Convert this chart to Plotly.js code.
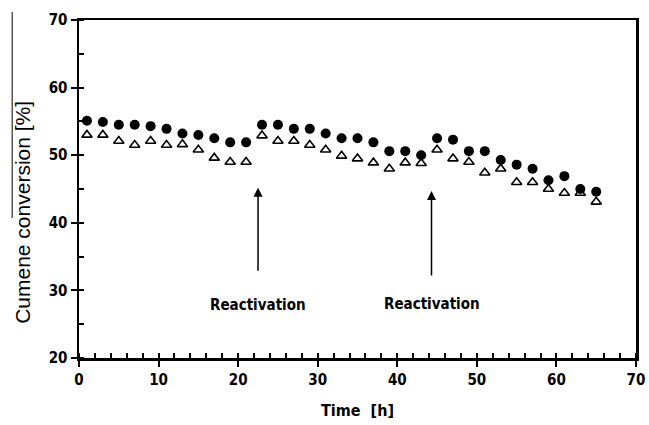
<!DOCTYPE html>
<html>
<head>
<meta charset="utf-8">
<script src="https://cdn.plot.ly/plotly-3.0.1.min.js"></script>
<style>html,body{margin:0;padding:0;background:#fff}#chart{width:649px;height:425px}</style>
</head>
<body>
<div id="chart"></div>
<script>
var timeH = [1,3,5,7,9,11,13,15,17,19,21,23,25,27,29,31,33,35,37,39,41,43,45,47,49,51,53,55,57,59,61,63,65];
var seriesFilled = [55.1,54.9,54.5,54.5,54.3,53.9,53.2,53.0,52.5,51.9,51.9,54.5,54.5,53.9,53.9,53.2,52.5,52.5,51.9,50.6,50.6,50.0,52.5,52.3,50.6,50.6,49.3,48.6,48.0,46.3,46.9,45.0,44.6];
var seriesOpen = [53.0,53.0,52.1,51.5,52.1,51.5,51.6,50.8,49.6,49.0,49.0,52.9,52.1,52.1,51.5,50.8,49.9,49.5,48.9,48.0,48.9,48.8,50.8,49.5,49.0,47.4,48.0,46.0,46.0,45.0,44.4,44.4,43.1];
var reactTimes = [22.5, 44.3];
var arrowTip = [45.2, 44.7];
var arrowTail = [32.7, 32.0];
var labelY = [27.8, 28.0];
var labelText = ['Reactivation', 'Reactivation'];
var xTitle = 'Time  [h]';
var yTitle = 'Cumene conversion [%]';

var fam = '"DejaVu Sans Condensed", "Liberation Sans", Arial, sans-serif';
var tickFont = {family: fam, size: 15, color: '#000', weight: 'bold', stretch: 'condensed'};

var traces = [
  {x: timeH, y: seriesFilled, type: 'scatter', mode: 'markers',
   marker: {symbol: 'circle', size: 10, color: '#000'}, showlegend: false, hoverinfo: 'skip'},
  {x: timeH, y: seriesOpen, type: 'scatter', mode: 'markers',
   marker: {symbol: 'triangle-up-open', size: 9, color: '#000', line: {width: 1.6, color: '#000'}}, showlegend: false, hoverinfo: 'skip'}
];

var annotations = [];
for (var i = 0; i < reactTimes.length; i++) {
  annotations.push({x: reactTimes[i], y: arrowTip[i], ax: reactTimes[i], ay: arrowTail[i],
    xref: 'x', yref: 'y', axref: 'x', ayref: 'y', text: '', showarrow: true,
    arrowhead: 2, arrowsize: 1.2, arrowwidth: 1.5, arrowcolor: '#000'});
  annotations.push({x: reactTimes[i], y: labelY[i], xref: 'x', yref: 'y', text: labelText[i],
    showarrow: false, font: {family: fam, size: 15, color: '#000', weight: 'bold', stretch: 'condensed'}});
}
annotations.push({xref: 'paper', yref: 'paper', x: -0.102, y: 0.43, xanchor: 'center', yanchor: 'middle',
  text: yTitle, textangle: -90, showarrow: false,
  font: {family: '"Liberation Sans", Arial, sans-serif', size: 21, color: '#000'}});

var layout = {
  width: 649, height: 425,
  margin: {l: 79, r: 13, t: 20, b: 67},
  paper_bgcolor: '#fff', plot_bgcolor: '#fff',
  font: {family: fam, color: '#000'},
  xaxis: {range: [0, 70], dtick: 10, tick0: 0, showgrid: false, zeroline: false,
    showline: true, linecolor: '#000', linewidth: 2.5, mirror: true,
    ticks: 'outside', ticklen: 6, tickwidth: 2, tickcolor: '#000', tickfont: tickFont,
    minor: {dtick: 2, ticks: 'inside', ticklen: 5, tickwidth: 2, tickcolor: '#000', showgrid: false},
    title: {text: xTitle, font: {family: fam, size: 16, color: '#000', weight: 'bold', stretch: 'condensed'}, standoff: 18}},
  yaxis: {range: [20, 70], dtick: 10, tick0: 20, showgrid: false, zeroline: false,
    showline: true, linecolor: '#000', linewidth: 2.5, mirror: true,
    ticks: 'outside', ticklen: 6, tickwidth: 2, tickcolor: '#000', tickfont: tickFont,
    minor: {dtick: 5, ticks: 'inside', ticklen: 5, tickwidth: 2, tickcolor: '#000', showgrid: false}},
  annotations: annotations,
  shapes: [{type: 'line', xref: 'paper', yref: 'paper', x0: -0.120, x1: -0.120, y0: 0.414, y1: 1.024,
    line: {color: '#000', width: 1}}]
};

Plotly.newPlot('chart', traces, layout, {displayModeBar: false, staticPlot: true});
</script>
</body>
</html>
